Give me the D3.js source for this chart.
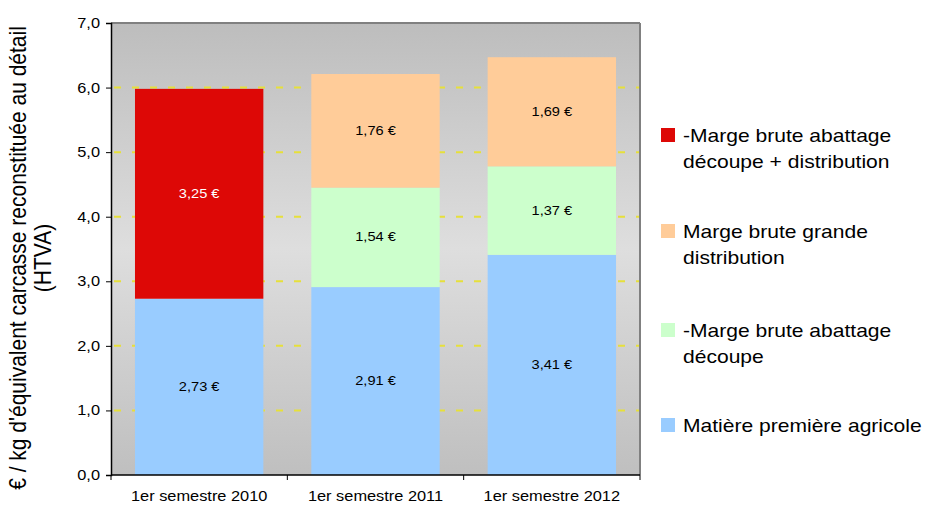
<!DOCTYPE html>
<html><head><meta charset="utf-8">
<script src="https://cdn.jsdelivr.net/npm/d3@7"></script>
<style>body{margin:0;background:#fff;}svg{display:block;font-family:"Liberation Sans",Arial,sans-serif;}</style>
</head><body>
<svg id="c" width="926" height="505"></svg>
<script>
const categories = ["1er semestre 2010", "1er semestre 2011", "1er semestre 2012"];
const matierePremiere = [2.73, 2.91, 3.41];
const margeAbattage = [0, 1.54, 1.37];
const margeGD = [0, 1.76, 1.69];
const margeAbattageDistrib = [3.25, 0, 0];
const yTicks = [0, 1, 2, 3, 4, 5, 6, 7];
const seriesDefs = [
  {key: "mp", name: ["Matière première agricole"], values: matierePremiere, color: "#99ccff", text: "#000"},
  {key: "ab", name: ["-Marge brute abattage", "découpe"], values: margeAbattage, color: "#ccffcc", text: "#000"},
  {key: "gd", name: ["Marge brute grande", "distribution"], values: margeGD, color: "#ffcc99", text: "#000"},
  {key: "ad", name: ["-Marge brute abattage", "découpe + distribution"], values: margeAbattageDistrib, color: "#dd0806", text: "#fff"}
];

const SX = 1.17; // horizontal stretch of the original picture's text
const svg = d3.select("#c");
const L = 111, R = 640, T = 23, B = 475;
const x = d3.scaleBand().domain(categories).range([L, R]).paddingInner(0.272).paddingOuter(0.136);
const y = d3.scaleLinear().domain([0, 7]).range([B, T]);

function stext(parent, px, py, size, anchor, str, fill) {
  return parent.append("text")
    .attr("transform", `translate(${px},${py}) scale(${SX},1)`)
    .attr("text-anchor", anchor).attr("font-size", size).attr("fill", fill || "#000")
    .text(str);
}

const defs = svg.append("defs");
const g = defs.append("linearGradient").attr("id", "bg").attr("x1", 0).attr("x2", 0).attr("y1", 0).attr("y2", 1);
g.append("stop").attr("offset", "0%").attr("stop-color", "#bdbdbd");
g.append("stop").attr("offset", "50%").attr("stop-color", "#dedede");
g.append("stop").attr("offset", "100%").attr("stop-color", "#bfbfbf");

svg.append("rect").attr("x", L).attr("y", T).attr("width", R - L).attr("height", B - T).attr("fill", "url(#bg)");

// gridlines
svg.append("g").selectAll("line").data(yTicks.filter(d => d > 0 && d < 7)).join("line")
  .attr("x1", L).attr("x2", R).attr("y1", d => y(d)).attr("y2", d => y(d))
  .attr("stroke", "#e6e03a").attr("stroke-width", 2).attr("stroke-dasharray", "7,11").attr("stroke-dashoffset", -3);

// frame top/right
svg.append("line").attr("x1", L).attr("x2", R).attr("y1", T).attr("y2", T).attr("stroke", "#808080").attr("stroke-width", 2);
svg.append("line").attr("x1", R).attr("x2", R).attr("y1", T).attr("y2", B).attr("stroke", "#808080").attr("stroke-width", 2);

// stack
const rows = categories.map((c, i) => {
  const o = {cat: c};
  seriesDefs.forEach(s => o[s.key] = s.values[i]);
  return o;
});
const stack = d3.stack().keys(seriesDefs.map(s => s.key))(rows);
const fmt = v => d3.format(".2f")(v).replace(".", ",") + " €";

stack.forEach((layer, li) => {
  const s = seriesDefs[li];
  const gg = svg.append("g");
  const segs = layer.filter(d => d[1] - d[0] > 0);
  gg.selectAll("rect").data(segs).join("rect")
    .attr("x", d => x(d.data.cat)).attr("width", x.bandwidth())
    .attr("y", d => y(d[1])).attr("height", d => y(d[0]) - y(d[1]))
    .attr("fill", s.color);
  segs.forEach(d => {
    stext(gg, x(d.data.cat) + x.bandwidth() / 2, (y(d[0]) + y(d[1])) / 2 + 4, 12.5, "middle", fmt(d[1] - d[0]), s.text);
  });
});

// y axis
const ya = svg.append("g").attr("transform", `translate(${L},0)`)
  .call(d3.axisLeft(y).tickValues(yTicks).tickSize(5).tickFormat(""));
ya.select(".domain").attr("stroke", "#000").attr("stroke-width", 1.5);
ya.selectAll(".tick line").attr("stroke", "#000");
yTicks.forEach(t => stext(svg, 100, y(t) + 5, 14, "end", d3.format(".1f")(t).replace(".", ",")));

// x axis
const xa = svg.append("g").attr("transform", `translate(0,${B})`);
xa.append("line").attr("x1", L).attr("x2", R).attr("y1", 0).attr("y2", 0).attr("stroke", "#000").attr("stroke-width", 1.5);
const bounds = [L].concat(categories.map(c => x(c) + x.bandwidth() + x.step() * x.paddingInner() / 2));
bounds[bounds.length - 1] = R;
xa.selectAll("line.tk").data(bounds).join("line").attr("class", "tk")
  .attr("x1", d => d).attr("x2", d => d).attr("y1", 0).attr("y2", 5).attr("stroke", "#000");
categories.forEach(c => stext(xa, x(c) + x.bandwidth() / 2, 26, 14, "middle", c));

// y title
const yt = svg.append("text").attr("transform", `translate(26,258) scale(${SX},1) rotate(-90)`).attr("text-anchor", "middle").attr("font-size", 21);
yt.append("tspan").attr("x", 0).attr("dy", 0).text("€ / kg d'équivalent carcasse reconstituée au détail");
yt.append("tspan").attr("x", 0).attr("dy", 21).text("(HTVA)");

// legend
const legendY = [142, 238, 337, 432];
const leg = svg.append("g");
seriesDefs.slice().reverse().forEach((s, i) => {
  const gy = legendY[i];
  leg.append("rect").attr("x", 661).attr("y", gy - 14).attr("width", 14).attr("height", 14).attr("fill", s.color);
  s.name.forEach((n, j) => stext(leg, 683, gy + j * 26, 18, "start", n));
});
</script>
</body></html>
